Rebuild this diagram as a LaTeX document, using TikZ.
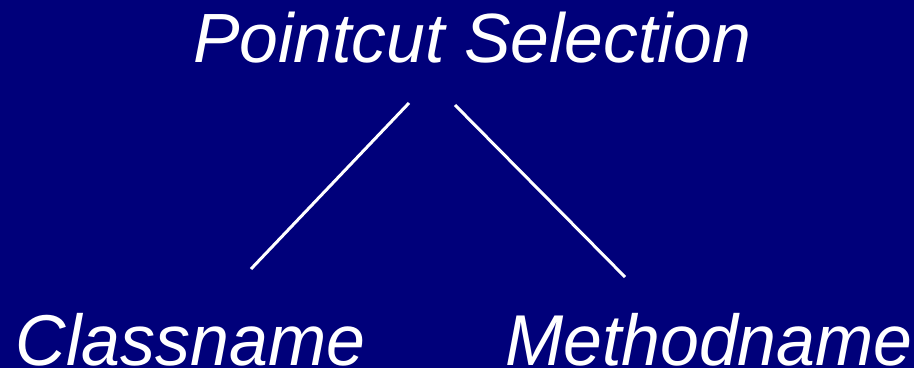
\documentclass[tikz,border=0pt]{standalone}
\usepackage{fontspec}
\setmainfont{Liberation Sans}
\definecolor{bgblue}{RGB}{0,0,122}
\begin{document}
\begin{tikzpicture}[x=1pt,y=1pt,
  lbl/.style={inner sep=0pt,outer sep=0pt,text=white,anchor=base west},
  conn/.style={draw=white,line width=3pt}]
\fill[bgblue] (0,0) rectangle (914,368);
\useasboundingbox (0,0) rectangle (914,368);
\node[lbl,font=\fontsize{69.7}{80}\selectfont\itshape] (top) at (193,306) {Pointcut Selection};
\node[lbl,font=\fontsize{72}{84}\selectfont\itshape] (cls) at (16,3) {\scalebox{0.97}[1]{Classname}};
\node[lbl,font=\fontsize{72}{84}\selectfont\itshape] (mth) at (505,3) {\scalebox{0.97}[1]{Methodname}};
\coordinate (l1a) at (409,265);
\coordinate (l1b) at (251,99);
\coordinate (l2a) at (455,263);
\coordinate (l2b) at (625,91);
\draw[conn] (l1a) -- (l1b);
\draw[conn] (l2a) -- (l2b);
\end{tikzpicture}
\end{document}
